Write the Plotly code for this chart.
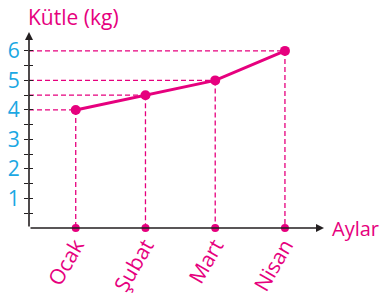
import plotly.graph_objects as go

months = ["Ocak", "Şubat", "Mart", "Nisan"]
mass_kg = [4, 4.5, 5, 6]
y_labels = [1, 2, 3, 4, 5, 6]

MAG = "#e6007e"
BLUE = "#1ba8e3"
FONT = "Open Sans"

xpos = list(range(1, len(months) + 1))
X0, X1 = 0.33, 4.56
Y0, Y1 = 0, 6.64

fig = go.Figure()

# axes with arrows (drawn first as traces-free annotations below markers is not possible,
# so keep them thin)
fig.add_annotation(x=X1, y=0, ax=X0, ay=0, xref="x", yref="y", axref="x", ayref="y",
                   showarrow=True, arrowhead=2, arrowsize=1, arrowwidth=1.6,
                   arrowcolor="#231f20", text="")
fig.add_annotation(x=X0, y=Y1, ax=X0, ay=0, xref="x", yref="y", axref="x", ayref="y",
                   showarrow=True, arrowhead=2, arrowsize=1, arrowwidth=1.6,
                   arrowcolor="#231f20", text="")

# dashed guide lines
for xi, yi in zip(xpos, mass_kg):
    fig.add_trace(go.Scatter(x=[X0, xi], y=[yi, yi], mode="lines",
                             line=dict(color=MAG, width=1.3, dash="5px,3px"),
                             hoverinfo="skip", showlegend=False))
    fig.add_trace(go.Scatter(x=[xi, xi], y=[yi, 0], mode="lines",
                             line=dict(color=MAG, width=1.3, dash="5px,3px"),
                             hoverinfo="skip", showlegend=False))

# dots on the x axis
fig.add_trace(go.Scatter(x=xpos, y=[0] * len(xpos), mode="markers",
                         marker=dict(color=MAG, size=8), cliponaxis=False,
                         showlegend=False))

# main line
fig.add_trace(go.Scatter(x=xpos, y=mass_kg, mode="lines+markers",
                         line=dict(color=MAG, width=3),
                         marker=dict(color=MAG, size=10), cliponaxis=False,
                         showlegend=False))

fig.add_annotation(text="Kütle (kg)", xref="paper", yref="paper", x=-0.01, y=1.075,
                   xanchor="left", yanchor="middle", showarrow=False,
                   font=dict(family=FONT, size=21, color=MAG))
fig.add_annotation(text="Aylar", xref="paper", yref="y", x=1.02, y=0,
                   xanchor="left", yanchor="middle", showarrow=False,
                   font=dict(family=FONT, size=20, color=MAG))

fig.update_layout(
    width=384, height=297,
    margin=dict(l=29, r=60, t=32, b=69),
    paper_bgcolor="white", plot_bgcolor="white",
    xaxis=dict(range=[X0, X1], tickvals=xpos, ticktext=months, tickangle=-60,
               automargin=False,
               showgrid=False, zeroline=False, showline=False, ticks="",
               tickfont=dict(family=FONT, size=21, color=MAG)),
    yaxis=dict(range=[Y0, Y1], tickvals=y_labels, ticktext=[str(v) for v in y_labels],
               automargin=False,
               showgrid=False, zeroline=False, showline=False,
               ticks="outside", ticklen=4, tickwidth=1.3, tickcolor="#231f20",
               minor=dict(tickvals=[v - 0.5 for v in y_labels], ticks="outside",
                          ticklen=4, tickwidth=1.3, tickcolor="#231f20"),
               tickfont=dict(family=FONT, size=21, color=BLUE)),
    yaxis2=dict(range=[Y0, Y1], overlaying="y", side="left", showgrid=False,
                automargin=False,
                zeroline=False, showticklabels=False,
                tickvals=[v / 2 for v in range(1, 2 * len(y_labels) + 1)],
                ticks="inside", ticklen=4, tickwidth=1.3, tickcolor="#231f20"),
)
fig.add_trace(go.Scatter(x=[None], y=[None], yaxis="y2", showlegend=False))

fig.write_html("out.html", config={"displayModeBar": False},
               post_script="document.body.style.margin='0';document.body.style.overflow='hidden';")
